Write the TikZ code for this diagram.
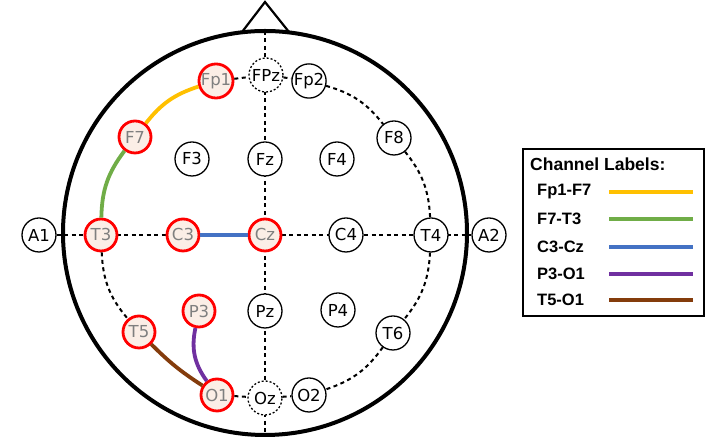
\documentclass[tikz,border=0pt]{standalone}
\usepackage{fontspec}
\newfontfamily\elfont{DejaVu Sans}
\newfontfamily\legfont{Liberation Sans}
\usetikzlibrary{backgrounds}
\definecolor{cyel}{HTML}{FFC000}
\definecolor{cgrn}{HTML}{70AD47}
\definecolor{cblu}{HTML}{4472C4}
\definecolor{cpur}{HTML}{7030A0}
\definecolor{cbrn}{HTML}{843C0C}
\definecolor{cred}{HTML}{FF0000}
\definecolor{cpeach}{HTML}{FBEEE6}
\definecolor{cgtxt}{HTML}{7F7F7F}
\tikzset{
  elec/.style={circle, draw=black, line width=1.3pt, fill=white, minimum size=34pt, inner sep=0pt, font=\elfont\fontsize{16.5}{16.5}\selectfont},
  elecsel/.style={elec, draw=cred, line width=2.8pt, fill=cpeach, text=cgtxt, minimum size=32pt},
  elecref/.style={elec, dash pattern=on 2pt off 2pt},
  dline/.style={line width=2pt, dash pattern=on 4pt off 3.5pt},
  chan/.style={line width=3.8pt},
  legtxt/.style={anchor=west, inner sep=0pt, font=\legfont\bfseries\fontsize{16.5}{16.5}\selectfont},
}
\begin{document}
\begin{tikzpicture}[x=1pt,y=1pt]
\useasboundingbox (0,0) rectangle (710,446);
% head
\draw[line width=4pt] (265,213) circle (202);
\draw[line width=2.2pt, line join=miter] (242,414) -- (265,444) -- (289,414);
% electrodes
\node[elecsel] (Fp1) at (216,365) {Fp1};
\node[elecref] (FPz) at (266,371) {FPz};
\node[elec] (Fp2) at (309,365) {Fp2};
\node[elecsel] (F7) at (135,309) {F7};
\node[elec] (F3) at (192,287) {F3};
\node[elec] (Fz) at (265,287) {Fz};
\node[elec] (F4) at (337,287) {F4};
\node[elec] (F8) at (394,308) {F8};
\node[elec] (A1) at (39,211) {A1};
\node[elecsel] (T3) at (101,211) {T3};
\node[elecsel] (C3) at (183,211) {C3};
\node[elecsel] (Cz) at (265,211) {Cz};
\node[elec] (C4) at (346,211) {C4};
\node[elec] (T4) at (431,211) {T4};
\node[elec] (A2) at (489,211) {A2};
\node[elecsel] (T5) at (139,114) {T5};
\node[elecsel] (P3) at (199,135) {P3};
\node[elec] (Pz) at (265,135) {Pz};
\node[elec] (P4) at (338,136) {P4};
\node[elec] (T6) at (393,113) {T6};
\node[elecsel] (O1) at (217,51) {O1};
\node[elecref] (Oz) at (265,48) {Oz};
\node[elec] (O2) at (309,51) {O2};
\coordinate (htop) at (265,415);
\coordinate (hbot) at (265,11);
\begin{scope}[on background layer]
  \draw[dline] (htop) -- (hbot);
  \draw[dline] (A1) -- (A2);
\end{scope}
\draw[dline] (Fp1) -- (FPz) -- (Fp2);
\draw[dline] (O1) -- (Oz) -- (O2);
\draw[dline] (Fp2) to[bend left=18] (F8);
\draw[dline] (F8) to[bend left=18] (T4);
\draw[dline] (T4) to[bend left=18] (T6);
\draw[dline] (T6) to[bend left=18] (O2);
\draw[dline] (T3) to[bend right=19] (T5);
% channels
\draw[chan, cyel] (Fp1) to[bend right=17] (F7);
\draw[chan, cgrn] (F7) to[bend right=18] (T3);
\draw[chan, cblu] (C3) -- (Cz);
\draw[chan, cpur] (P3) to[bend right=24] (O1);
\draw[chan, cbrn] (T5) to[bend right=6] (O1);
% legend
\node[draw=black, line width=1.5pt, minimum width=181pt, minimum height=167pt, inner sep=0pt] (leg) at (613.5,213.5) {};
\node[anchor=west, inner sep=0pt, font=\legfont\bfseries\fontsize{17.5}{17.5}\selectfont] (legt) at (530,282) {Channel Labels:};
\node[legtxt] (l1) at (537,254) {Fp1-F7};
\node[legtxt] (l2) at (537,227) {F7-T3};
\node[legtxt] (l3) at (537,199) {C3-Cz};
\node[legtxt] (l4) at (537,172) {P3-O1};
\node[legtxt] (l5) at (537,146) {T5-O1};
\coordinate (a1) at (609,254); \coordinate (b1) at (693,254);
\coordinate (a2) at (609,227); \coordinate (b2) at (693,227);
\coordinate (a3) at (609,199); \coordinate (b3) at (693,199);
\coordinate (a4) at (609,172); \coordinate (b4) at (693,172);
\coordinate (a5) at (609,146); \coordinate (b5) at (693,146);
\draw[chan, cyel] (a1) -- (b1);
\draw[chan, cgrn] (a2) -- (b2);
\draw[chan, cblu] (a3) -- (b3);
\draw[chan, cpur] (a4) -- (b4);
\draw[chan, cbrn] (a5) -- (b5);
\end{tikzpicture}
\end{document}
